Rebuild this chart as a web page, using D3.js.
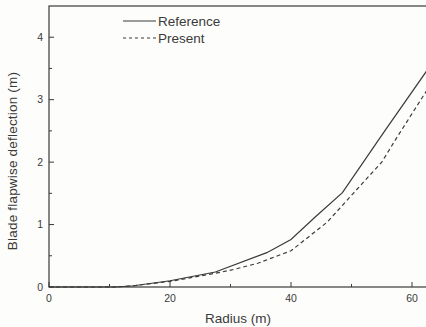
<!DOCTYPE html>
<html>
<head>
<meta charset="utf-8">
<script src="https://cdn.jsdelivr.net/npm/d3@7"></script>
<style>
  html, body { margin: 0; padding: 0; background: #fdfdfb; }
  svg { display: block; font-family: "Liberation Sans", Arial, sans-serif; }
</style>
</head>
<body>
<svg id="chart"></svg>
<script>
// radius (m) and flapwise deflection (m)
const refRadius = [0, 11, 14, 20, 27.5, 36, 40, 44, 48.5, 55.5, 63];
const refDeflection = [0, 0, 0.02, 0.1, 0.24, 0.55, 0.76, 1.12, 1.51, 2.5, 3.54];
const presentRadius = [0, 11, 14, 20, 27.5, 30.5, 34.5, 40, 46, 50.3, 55, 57.6, 61.8, 63];
const presentDeflection = [0, 0, 0.02, 0.09, 0.22, 0.28, 0.38, 0.58, 1.04, 1.5, 2.0, 2.41, 3.05, 3.23];
const xTicks = [0, 20, 40, 60];
const xMinor = [10, 30, 50];
const yTicks = [0, 1, 2, 3, 4];
const yMinor = [0.5, 1.5, 2.5, 3.5];

const width = 426, height = 327;
const ink = "#3a3a3a";

const svg = d3.select("svg#chart").attr("width", width).attr("height", height);

const x = d3.scaleLinear().domain([0, 70]).range([49, 49 + 70 * 6.05]);
const y = d3.scaleLinear().domain([0, 4.5]).range([287, 6]);

// frame
svg.append("rect")
  .attr("x", x(0)).attr("y", y(4.5))
  .attr("width", x(70) - x(0)).attr("height", y(0) - y(4.5))
  .attr("fill", "none").attr("stroke", ink).attr("stroke-width", 1.2);

// ticks point inward
const tickGroup = svg.append("g").attr("stroke", ink).attr("stroke-width", 1);
tickGroup.selectAll("line.xmaj").data(xTicks).join("line")
  .attr("x1", (d) => x(d)).attr("x2", (d) => x(d))
  .attr("y1", y(0)).attr("y2", y(0) - 5);
tickGroup.selectAll("line.xmin").data(xMinor).join("line")
  .attr("x1", (d) => x(d)).attr("x2", (d) => x(d))
  .attr("y1", y(0)).attr("y2", y(0) - 3);
tickGroup.selectAll("line.ymaj").data(yTicks).join("line")
  .attr("x1", x(0)).attr("x2", x(0) + 5)
  .attr("y1", (d) => y(d)).attr("y2", (d) => y(d));
tickGroup.selectAll("line.ymin").data(yMinor).join("line")
  .attr("x1", x(0)).attr("x2", x(0) + 3)
  .attr("y1", (d) => y(d)).attr("y2", (d) => y(d));

svg.append("g").selectAll("text").data(xTicks).join("text")
  .attr("x", (d) => x(d)).attr("y", 302)
  .attr("text-anchor", "middle").attr("font-size", 10.5).attr("fill", ink)
  .text((d) => d);

svg.append("g").selectAll("text").data(yTicks).join("text")
  .attr("x", 43).attr("y", (d) => y(d) + 3.8)
  .attr("text-anchor", "end").attr("font-size", 10.5).attr("fill", ink)
  .text((d) => d);

svg.append("text")
  .attr("x", 238).attr("y", 323)
  .attr("text-anchor", "middle").attr("font-size", 13.5).attr("fill", ink)
  .text("Radius (m)");

svg.append("text")
  .attr("transform", "translate(17,161) rotate(-90)")
  .attr("text-anchor", "middle").attr("font-size", 13.5)
  .attr("letter-spacing", 0.2).attr("fill", ink)
  .text("Blade flapwise deflection (m)");

// curves
const line = d3.line().x((d) => x(d[0])).y((d) => y(d[1]));
const refPoints = d3.zip(refRadius, refDeflection);
const presentPoints = d3.zip(presentRadius, presentDeflection);

svg.append("path")
  .attr("d", line(refPoints))
  .attr("fill", "none").attr("stroke", ink).attr("stroke-width", 1.2);
svg.append("path")
  .attr("d", line(presentPoints))
  .attr("fill", "none").attr("stroke", ink).attr("stroke-width", 1.2)
  .attr("stroke-dasharray", "4,3");

// legend
const legend = svg.append("g");
const legendItems = [
  { label: "Reference", dash: null, yPos: 21 },
  { label: "Present", dash: "3,3", yPos: 38 },
];
legendItems.forEach(({ label, dash, yPos }) => {
  legend.append("line")
    .attr("x1", 123).attr("x2", 156).attr("y1", yPos).attr("y2", yPos)
    .attr("stroke", ink).attr("stroke-width", 1.2)
    .attr("stroke-dasharray", dash);
  legend.append("text")
    .attr("x", 158).attr("y", yPos + 5)
    .attr("font-size", 13.5).attr("fill", ink)
    .text(label);
});
</script>
</body>
</html>
